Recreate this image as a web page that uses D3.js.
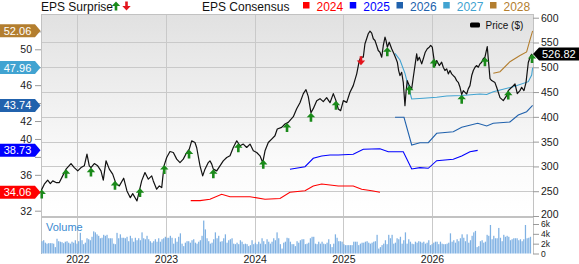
<!DOCTYPE html>
<html><head><meta charset="utf-8">
<script src="https://cdn.jsdelivr.net/npm/d3@7"></script>
<style>html,body{margin:0;padding:0;background:#fff;}svg{display:block;font-family:"Liberation Sans",Arial,sans-serif;}</style>
</head><body><svg id="c" width="579" height="264"></svg>
<script>
// ---------------- DATA ----------------
const xTickYears = [2022, 2023, 2024, 2025, 2026];
const priceTicks = [200, 250, 300, 350, 400, 450, 500, 550, 600];
const epsTicks = [32, 34, 36, 38, 40, 42, 44, 46, 48, 50, 52];
const volumeTicks = [0, 2, 4, 6];

const priceDates = [
2021.591,2021.628,2021.666,2021.696,2021.723,2021.760,2021.797,2021.835,2021.873,2021.929,
2021.966,2022.005,2022.042,2022.079,2022.109,2022.135,2022.154,2022.192,2022.230,2022.267,
2022.293,2022.324,2022.361,2022.399,2022.436,2022.474,2022.523,2022.560,2022.598,2022.625,
2022.673,2022.726,2022.763,2022.801,2022.839,2022.857,2022.895,2022.925,2022.952,2022.978,
2023.008,2023.045,2023.083,2023.121,2023.158,2023.195,2023.234,2023.263,2023.290,2023.327,
2023.346,2023.384,2023.414,2023.440,2023.477,2023.496,2023.516,2023.534,2023.572,2023.609,
2023.646,2023.685,2023.722,2023.759,2023.798,2023.835,2023.872,2023.910,2023.948,2023.985,
2024.023,2024.060,2024.091,2024.117,2024.154,2024.192,2024.229,2024.255,2024.305,2024.342,
2024.379,2024.436,2024.474,2024.511,2024.549,2024.579,2024.605,2024.635,2024.661,2024.700,
2024.737,2024.774,2024.812,2024.850,2024.887,2024.917,2024.943,2024.970,2025.000,2025.038,
2025.075,2025.112,2025.151,2025.180,2025.199,2025.225,2025.244,2025.263,2025.281,2025.301,
2025.320,2025.338,2025.357,2025.376,2025.394,2025.413,2025.433,2025.451,2025.470,2025.481,
2025.496,2025.518,2025.545,2025.571,2025.594,2025.609,2025.624,2025.639,2025.658,2025.676,
2025.695,2025.707,2025.721,2025.744,2025.771,2025.789,2025.808,2025.827,2025.839,2025.857,
2025.884,2025.902,2025.924,2025.947,2025.969,2025.985,2026.003,2026.022,2026.037,2026.053,
2026.082,2026.109,2026.127,2026.146,2026.166,2026.184,2026.203,2026.222,2026.240,2026.259,
2026.278,2026.296,2026.316,2026.335,2026.353,2026.372,2026.391,2026.409,2026.428,2026.448,
2026.466,2026.485,2026.504,2026.522,2026.541,2026.560,2026.578,2026.597,2026.623,2026.654,
2026.673,2026.710,2026.729,2026.767,2026.804,2026.842,2026.860,2026.899,2026.936,2026.962,
2026.992,2027.011,2027.037,2027.060,2027.086,2027.113,2027.128];
const priceValues = [
250.6,264.1,272.2,265.4,270.8,267.4,267.4,280.9,294.5,305.8,
297.7,291.0,297.7,301.2,324.8,301.2,297.7,305.8,301.2,291.0,
272.2,311.3,294.5,284.4,265.4,260.7,276.3,250.6,237.0,245.1,
230.3,270.8,287.6,274.3,280.9,270.8,254.0,260.7,257.3,301.2,
318.0,330.1,328.1,314.7,307.8,314.7,328.1,335.0,351.7,348.3,
338.2,301.2,280.9,294.5,307.8,311.3,304.6,294.5,291.0,301.2,
311.3,318.0,321.4,338.2,351.7,341.6,345.1,338.2,345.1,331.5,
328.1,321.4,307.8,331.5,348.3,355.2,361.9,375.4,378.7,385.5,
388.8,400.3,416.5,428.6,446.8,454.9,440.8,408.4,416.5,432.7,
436.7,430.7,438.7,428.6,446.8,432.7,415.9,412.4,432.7,429.2,
449.5,463.0,486.7,513.6,520.3,520.3,547.4,557.5,567.6,572.9,
568.8,557.5,554.1,544.0,533.8,530.4,520.3,544.0,560.8,554.1,
540.5,550.6,537.3,527.2,517.1,510.2,493.4,483.3,489.9,469.7,
422.6,449.5,473.1,463.0,456.4,479.8,503.5,527.2,513.6,520.3,
506.9,517.1,530.4,537.3,540.5,544.0,540.5,517.1,503.5,513.6,
503.5,510.2,500.1,493.4,496.8,486.7,493.4,486.7,483.3,479.8,
473.1,469.7,459.6,444.8,452.9,449.5,446.2,456.4,463.0,483.3,
493.4,500.1,503.5,500.1,506.9,510.2,517.1,520.3,541.9,477.2,
473.1,469.1,459.6,438.7,432.7,442.8,452.9,459.6,466.5,446.8,
452.9,459.6,452.9,469.1,509.6,523.7,526.82];
const lastPrice = 526.82;

const consensusYears = ["2024", "2025", "2026", "2027", "2028"];
const cons2024Dates = [2023.279,2023.384,2023.496,2023.628,2023.722,2023.948,2024.117,2024.286,2024.398,2024.568,2024.661,2024.756,2024.850,2024.943,2025.112,2025.207,2025.320,2025.413];
const cons2024Values = [33.12,33.12,33.27,33.83,33.56,33.56,33.27,33.36,34.05,34.23,34.76,34.98,34.87,34.76,34.76,34.39,34.23,34.06];
const cons2025Dates = [2024.398,2024.568,2024.661,2024.756,2024.850,2024.943,2025.112,2025.225,2025.413,2025.507,2025.676,2025.771,2025.864,2025.958,2026.053,2026.240,2026.335,2026.428,2026.515];
const cons2025Values = [36.62,36.91,37.84,38.10,38.21,38.21,38.29,38.85,38.91,38.58,38.58,36.65,36.80,36.73,37.58,37.73,38.10,38.58,38.73];
const cons2026Dates = [2025.583,2025.684,2025.771,2025.864,2025.958,2026.053,2026.240,2026.335,2026.515,2026.617,2026.691,2026.879,2026.973,2027.067,2027.135];
const cons2026Values = [42.42,42.42,39.33,39.58,39.58,40.63,40.81,41.30,41.75,41.45,41.75,41.89,42.67,43.04,43.74];
const cons2027Dates = [2025.583,2025.639,2025.695,2025.771,2025.902,2026.053,2026.166,2026.335,2026.541,2026.617,2026.691,2026.917,2027.086,2027.124,2027.135];
const cons2027Values = [49.55,48.81,47.32,44.46,44.54,44.65,44.79,44.85,45.02,44.96,45.27,45.83,46.39,47.13,47.96];
const cons2028Dates = [2026.691,2026.767,2026.879,2026.992,2027.067,2027.105,2027.135];
const cons2028Values = [47.32,47.50,48.62,49.31,49.70,51.04,52.06];
const consensusLatest = [34.06, 38.73, 43.74, 47.96, 52.06];

const surpriseDates = [2021.599,2021.873,2022.154,2022.425,2022.707,2022.981,2023.260,2023.534,2023.816,2024.097,2024.365,2024.635,2024.917,2025.199,2025.496,2025.744,2026.022,2026.335,2026.597,2026.860,2027.128];
const surpriseDirection = ["up","up","up","up","up","up","up","up","up","up","up","up","up","down","up","up","up","up","up","up","up"];

// weekly volume, thousands of shares
const volumeStartYear = 2021.595, volumeStepYears = 0.0188;
const volumeValues = [
2.5,2.7,2.2,2.0,2.1,2.1,2.1,2.0,1.3,3.0, 2.5,2.4,2.3,2.1,2.4,2.5,2.2,2.0,2.4,2.2,
2.7,2.0,2.5,4.2,2.7,1.9,2.2,3.1,2.9,2.7, 3.4,4.5,4.3,3.9,3.6,3.1,3.2,3.8,3.6,3.8,
3.1,3.1,3.1,2.0,1.9,4.2,3.1,3.9,3.2,3.2, 3.1,3.4,2.5,3.6,3.1,2.4,3.2,2.7,3.1,2.7,
4.3,3.1,2.9,3.6,2.9,2.5,2.2,2.5,2.9,2.4, 3.1,2.4,2.9,3.1,3.4,3.2,3.2,3.6,3.2,2.0,
3.1,2.4,3.4,4.1,2.0,1.5,2.2,2.5,2.5,2.2, 2.7,2.9,2.2,2.0,2.4,2.7,3.6,6.7,4.9,3.1,
2.5,2.0,2.2,2.9,4.3,3.1,3.6,2.4,2.5,3.1, 3.9,2.2,2.7,2.9,3.1,2.0,1.9,2.2,1.9,2.7,
2.4,1.9,2.0,1.9,1.5,1.7,2.7,1.9,2.2,1.9, 2.4,2.0,3.1,2.5,1.9,2.9,2.4,2.0,2.4,3.1,
2.7,4.3,3.1,1.9,1.0,2.2,2.4,3.2,3.1,2.4,
1.9,1.9,1.5,2.5,2.2,2.7,2.9,2.9,1.9,2.0, 2.2,3.1,3.4,3.4,2.0,1.9,2.4,2.0,2.4,2.0,
1.9,2.2,2.9,1.9,1.3,2.0,3.9,3.2,2.5,2.5, 2.4,1.9,1.7,1.7,1.7,1.7,1.7,2.4,2.4,2.4,
1.7,2.0,2.2,2.2,2.4,2.5,2.2,2.0,2.2,2.4, 2.5,3.8,1.0,1.3,1.7,2.0,2.7,1.9,3.8,3.1,
3.8,2.0,2.2,3.1,2.9,3.4,2.0,2.7,4.3,2.0, 2.9,2.4,2.0,1.9,2.4,2.2,2.5,2.4,2.2,2.4,
2.0,2.2,2.7,1.7,1.9,2.2,2.4,2.4,1.9,2.4, 2.0,1.9,1.9,2.0,2.2,4.1,2.4,2.7,2.2,2.9,
2.5,3.1,3.9,3.2,2.5,3.9,2.2,2.7,3.6,4.3, 4.6,1.3,1.5,2.5,2.7,2.2,2.4,3.8,3.6,5.8,
2.9,3.6,3.1,3.1,5.2,3.2,2.5,3.8,3.4,3.6, 3.4,2.7,2.9,3.1,3.1,3.1,2.7,2.9,2.5,2.9,
5.8,3.1,3.2,3.4];

// ---------------- STYLE ----------------
const consColors = ["#ff0000", "#0000ff", "#2162ad", "#41a3d1", "#b37e2f"];
const gridColor = "#c9c9c9";

// ---------------- CHART ----------------
const svg = d3.select("#c");
const L = 41, R = 533, T = 14, B = 216.5, VT = 217, VB = 254;

const x = d3.scaleLinear().domain([2022, 2026]).range([77.3, 432]);
const yP = d3.scaleLinear().domain([200, 600]).range([216, 17.7]);
const yE = d3.scaleLinear().domain([32, 50]).range([210.7, 49.3]);
const yV = d3.scaleLinear().domain([0, 6]).range([253.5, 224]);

const defs = svg.append("defs");
const grad = defs.append("linearGradient").attr("id", "bg").attr("x1", 0).attr("y1", 0).attr("x2", 0).attr("y2", 1);
grad.append("stop").attr("offset", "0%").attr("stop-color", "#e1e1e1");
grad.append("stop").attr("offset", "75%").attr("stop-color", "#fbfbfb");
grad.append("stop").attr("offset", "100%").attr("stop-color", "#ffffff");
defs.append("clipPath").attr("id", "clip").append("rect").attr("x", L).attr("y", T).attr("width", R - L).attr("height", B - T);

svg.append("rect").attr("x", L).attr("y", T).attr("width", R - L).attr("height", B - T).attr("fill", "url(#bg)");
svg.append("rect").attr("x", L).attr("y", VT).attr("width", R - L).attr("height", VB - VT).attr("fill", "#fff");

// grid
const g = svg.append("g").attr("stroke", gridColor).attr("stroke-width", 1).attr("shape-rendering", "crispEdges");
g.selectAll(".vg").data(xTickYears).join("line")
  .attr("x1", d => Math.round(x(d)) + 0.5).attr("x2", d => Math.round(x(d)) + 0.5).attr("y1", T).attr("y2", VB);
g.selectAll(".hg").data(priceTicks.filter(d => d > 200 && d < 600)).join("line")
  .attr("x1", L).attr("x2", R).attr("y1", d => Math.round(yP(d)) + 0.5).attr("y2", d => Math.round(yP(d)) + 0.5);
// borders
const bd = svg.append("g").attr("stroke", "#c2c2c2").attr("fill", "none").attr("shape-rendering", "crispEdges");
bd.append("line").attr("x1", L).attr("x2", R).attr("y1", T + 0.5).attr("y2", T + 0.5);
bd.append("line").attr("x1", L).attr("x2", R).attr("y1", VT - 0.5).attr("y2", VT - 0.5).attr("stroke-width", 2);
bd.append("line").attr("x1", L + 0.5).attr("x2", L + 0.5).attr("y1", T).attr("y2", VB);
bd.append("line").attr("x1", R + 0.5).attr("x2", R + 0.5).attr("y1", T).attr("y2", VB);

// volume bars
const volData = volumeValues.map((v, i) => ({ t: volumeStartYear + i * volumeStepYears, v }));
svg.append("g").selectAll("rect").data(volData).join("rect")
  .attr("x", d => x(d.t)).attr("width", 1.25)
  .attr("y", d => yV(d.v)).attr("height", d => yV(0) - yV(d.v))
  .attr("fill", "#7fb1e3");
svg.append("text").attr("x", 46).attr("y", 231).attr("font-size", 11).attr("fill", "#3b8ad0").text("Volume");

// consensus lines
const consSeries = [
  [cons2024Dates, cons2024Values], [cons2025Dates, cons2025Values], [cons2026Dates, cons2026Values],
  [cons2027Dates, cons2027Values], [cons2028Dates, cons2028Values]];
const epsLine = d3.line().x(d => x(d[0])).y(d => yE(d[1]));
const cg = svg.append("g").attr("clip-path", "url(#clip)");
consSeries.forEach((s, i) => {
  cg.append("path").datum(s[0].map((t, j) => [t, s[1][j]]))
    .attr("d", epsLine).attr("fill", "none").attr("stroke", consColors[i]).attr("stroke-width", 1.1);
});

// price line
const priceData = priceDates.map((t, i) => [t, priceValues[i]]);
cg.append("path").datum(priceData)
  .attr("d", d3.line().x(d => x(d[0])).y(d => yP(d[1])))
  .attr("fill", "none").attr("stroke", "#111").attr("stroke-width", 1.2).attr("stroke-linejoin", "round");

// surprise arrows
const bis = d3.bisector(d => d[0]).left;
function priceAt(t) {
  let i = bis(priceData, t);
  if (i <= 0) return priceData[0][1];
  if (i >= priceData.length) return priceData[priceData.length - 1][1];
  const a = priceData[i - 1], b = priceData[i];
  return a[1] + (b[1] - a[1]) * (t - a[0]) / (b[0] - a[0]);
}
const upPath = "M0,0L4.2,4.6L1.3,4.6L1.3,9L-1.3,9L-1.3,4.6L-4.2,4.6Z";
const downPath = "M0,9L4.2,4.4L1.3,4.4L1.3,0L-1.3,0L-1.3,4.4L-4.2,4.4Z";
svg.append("g").selectAll("path").data(surpriseDates.map((t, i) => ({ t, dir: surpriseDirection[i] }))).join("path")
  .attr("transform", d => `translate(${x(d.t)},${yP(priceAt(d.t)) + (d.dir === "up" ? 0 : -1)})`)
  .attr("d", d => d.dir === "up" ? upPath : downPath)
  .attr("fill", d => d.dir === "up" ? "#1a8a1a" : "#e3141c");

// axes
const axL = svg.append("g").attr("transform", `translate(${L},0)`)
  .call(d3.axisLeft(yE).tickValues(epsTicks).tickSize(6).tickPadding(3).tickFormat(d3.format("d")));
const axR = svg.append("g").attr("transform", `translate(${R},0)`)
  .call(d3.axisRight(yP).tickValues(priceTicks).tickSize(6).tickPadding(2));
const axV = svg.append("g").attr("transform", `translate(${R},0)`)
  .call(d3.axisRight(yV).tickValues(volumeTicks).tickSize(6).tickPadding(2).tickFormat(d => d ? d + "k" : "0"));
const axX = svg.append("g").attr("transform", `translate(0,${VB})`)
  .call(d3.axisBottom(x).tickValues(xTickYears).tickSize(0).tickPadding(2).tickFormat(d3.format("d")));
[axL, axR, axV, axX].forEach(a => {
  a.select(".domain").remove();
  a.selectAll("line").attr("stroke", "#9a9a9a");
  a.selectAll("text").attr("font-size", 10.5).attr("fill", "#1a1a1a").attr("font-family", "Liberation Sans, Arial, sans-serif");
});
axV.selectAll("text").attr("font-size", 8.5);
// tick labels hidden behind the consensus badges (as in the original chart)
axL.selectAll(".tick text").filter(d => consensusLatest.some(v => Math.abs(yE(d) - yE(v)) < 10)).remove();
// price "200" label sits right above the volume "6k" label
axR.selectAll(".tick text").filter(d => d === 200).attr("dy", "0.1em");

// left badges (latest consensus)
const badge = svg.append("g");
consensusLatest.forEach((v, i) => {
  const yy = yE(v);
  badge.append("path").attr("d", `M0,${yy - 6.5}L35,${yy - 6.5}L40.5,${yy}L35,${yy + 6.5}L0,${yy + 6.5}Z`).attr("fill", consColors[i]);
  badge.append("text").attr("x", 17.5).attr("y", yy + 4).attr("text-anchor", "middle").attr("font-size", 11).attr("fill", "#fff").text(v.toFixed(2));
});
// right badge (last price)
const yl = yP(lastPrice);
badge.append("path").attr("d", `M${R},${yl}L${R + 6},${yl - 6.5}L579,${yl - 6.5}L579,${yl + 6.5}L${R + 6},${yl + 6.5}Z`).attr("fill", "#000");
badge.append("text").attr("x", R + 9).attr("y", yl + 4).attr("font-size", 11).attr("fill", "#fff").text(lastPrice.toFixed(2));

// top legend
const lg = svg.append("g").attr("font-size", 12);
lg.append("text").attr("x", 41).attr("y", 10.5).attr("fill", "#111").text("EPS Surprise");
lg.append("path").attr("transform", "translate(116,1.5)").attr("d", upPath).attr("fill", "#1a8a1a");
lg.append("path").attr("transform", "translate(126.5,1.5)").attr("d", downPath).attr("fill", "#e3141c");
lg.append("text").attr("x", 202).attr("y", 10.5).attr("fill", "#111").text("EPS Consensus");
const lx = d3.scalePoint().domain(consensusYears).range([303, 490]);
consensusYears.forEach((yr, i) => {
  lg.append("rect").attr("x", lx(yr)).attr("y", 2).attr("width", 6.5).attr("height", 6.5).attr("fill", consColors[i]);
  lg.append("text").attr("x", lx(yr) + 13.5).attr("y", 10.5).attr("fill", consColors[i]).text(yr);
});
// price legend
svg.append("rect").attr("x", 470).attr("y", 22.5).attr("width", 10).attr("height", 5).attr("rx", 1.5).attr("fill", "#000");
svg.append("text").attr("x", 485.5).attr("y", 29).attr("font-size", 10).attr("fill", "#111").text("Price ($)");
</script></body></html>
